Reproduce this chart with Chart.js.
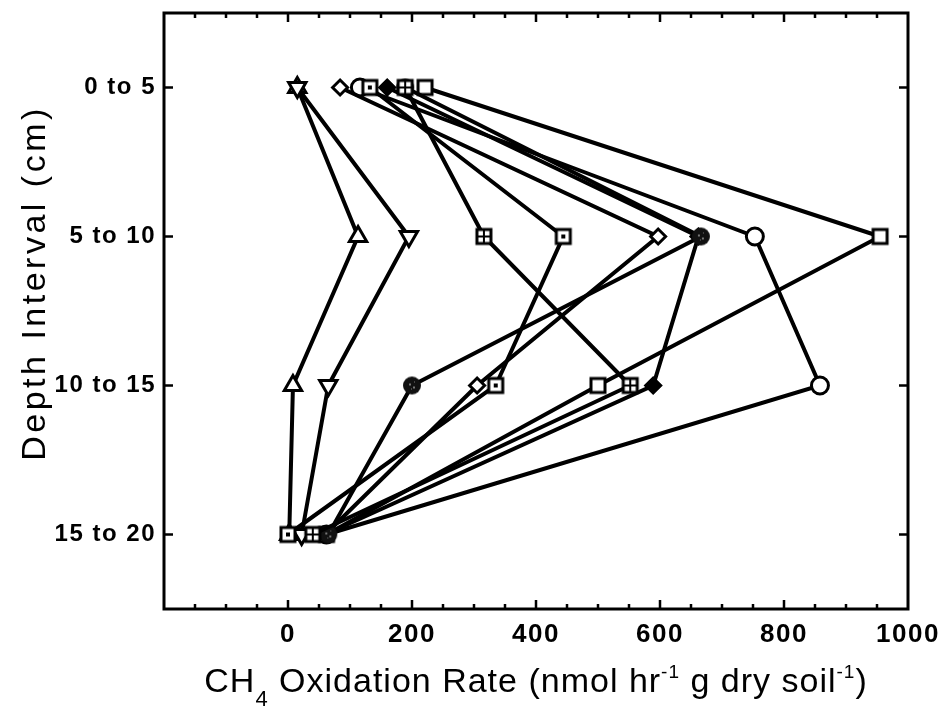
<!DOCTYPE html>
<html>
<head>
<meta charset="utf-8">
<script src="https://cdn.jsdelivr.net/npm/chart.js@4.4.0/dist/chart.umd.min.js"></script>
<style>
  html, body { margin: 0; padding: 0; background: #fff; }
  #wrap { width: 947px; height: 706px; }
</style>
</head>
<body>
<div id="wrap"><canvas id="ch4-chart" width="947" height="706"></canvas></div>
<script>
// depth intervals (categories, top to bottom)
var depths = ['0 to 5', '5 to 10', '10 to 15', '15 to 20'];

// CH4 oxidation rate for each profile, one value per depth interval
var rate_triangle_up = [15, 113, 8, 2];
var rate_triangle_down = [15, 195, 65, 22];
var rate_diamond_open = [84, 597, 305, 60];
var rate_circle_open = [116, 753, 858, 62];
var rate_square_dot = [132, 444, 335, 0];
var rate_diamond_filled = [160, 662, 589, 60];
var rate_circle_dotted = [189, 666, 200, 65];
var rate_square_grid = [189, 316, 552, 40];
var rate_square_open = [221, 955, 500, 62];

var x_labels = [0, 200, 400, 600, 800, 1000];

// little drawn markers for the symbols chart.js has no style for
function marker(kind) {
    var c = document.createElement('canvas');
    c.width = 22; c.height = 22;
    var g = c.getContext('2d');
    g.lineWidth = 3;
    g.strokeStyle = '#000';
    g.fillStyle = '#fff';
    if (kind === 'dotted') {
        g.beginPath();
        g.arc(11, 11, 9, 0, Math.PI * 2);
        g.fillStyle = '#111';
        g.fill();
        g.fillStyle = '#777';
        g.fillRect(8, 9, 2, 2);
        g.fillRect(12, 12, 2, 2);
        g.fillRect(10, 14, 1, 1);
        g.fillRect(13, 7, 1, 1);
        return c;
    }
    g.fillRect(4, 4, 14, 14);
    g.strokeRect(4, 4, 14, 14);
    g.fillStyle = '#000';
    if (kind === 'dot') {
        g.fillRect(9, 9, 4, 4);
    }
    if (kind === 'grid') {
        g.lineWidth = 2;
        g.beginPath();
        g.moveTo(11, 4); g.lineTo(11, 18);
        g.moveTo(4, 11); g.lineTo(18, 11);
        g.stroke();
    }
    return c;
}

function series(values, style, extra) {
    var ds = {
        data: values.map(function(v, i) { return {x: v, y: depths[i]}; }),
        borderColor: '#000',
        borderWidth: 4,
        pointStyle: style,
        pointBorderColor: '#000',
        pointBackgroundColor: '#fff',
        pointBorderWidth: 3,
        pointRadius: 8,
        tension: 0,
        fill: false
    };
    for (var k in extra) ds[k] = extra[k];
    return ds;
}

var x_title = [['CH', 0], ['4', 1], [' Oxidation Rate (nmol hr', 0], ['-1', -1], [' g dry soil', 0], ['-1', -1], [')', 0]];

var frame_plugin = {
    id: 'frame',
    beforeDraw: function(chart) {
        chart.ctx.letterSpacing = '1.5px';
    },
    afterDraw: function(chart) {
        var ctx = chart.ctx, a = chart.chartArea;
        var xs = chart.scales.x, ys = chart.scales.y;
        ctx.save();
        ctx.strokeStyle = '#000';
        ctx.lineWidth = 3;
        ctx.strokeRect(a.left, a.top, a.right - a.left, a.bottom - a.top);
        ctx.lineWidth = 2.5;
        ctx.beginPath();
        for (var v = -150; v < 1000; v += 50) {
            var px = xs.getPixelForValue(v);
            var len = v % 200 === 0 ? 9 : 5;
            ctx.moveTo(px, a.bottom); ctx.lineTo(px, a.bottom - len);
            ctx.moveTo(px, a.top); ctx.lineTo(px, a.top + len);
        }
        depths.forEach(function(d, i) {
            var py = ys.getPixelForValue(i);
            ctx.moveTo(a.left, py); ctx.lineTo(a.left + 9, py);
            ctx.moveTo(a.right, py); ctx.lineTo(a.right - 9, py);
        });
        ctx.stroke();

        // x title with sub / superscripts
        ctx.fillStyle = '#000';
        ctx.letterSpacing = '1px';
        ctx.textBaseline = 'alphabetic';
        ctx.textAlign = 'left';
        var fonts = {0: '34px "Liberation Sans"', 1: '22px "Liberation Sans"', '-1': '19px "Liberation Sans"'};
        var shift = {0: 0, 1: 14, '-1': -14};
        var total = 0;
        x_title.forEach(function(p) { ctx.font = fonts[p[1]]; total += ctx.measureText(p[0]).width; });
        var x = (a.left + a.right) / 2 - total / 2, base = 692;
        x_title.forEach(function(p) {
            ctx.font = fonts[p[1]];
            ctx.fillText(p[0], x, base + shift[p[1]]);
            x += ctx.measureText(p[0]).width;
        });

        // y title
        ctx.translate(45, 283);
        ctx.rotate(-Math.PI / 2);
        ctx.textAlign = 'center';
        ctx.letterSpacing = '3.5px';
        ctx.font = '34px "Liberation Sans"';
        ctx.fillText('Depth Interval (cm)', 0, 0);
        ctx.restore();
    }
};

var chart_config = {
    type: 'line',
    data: {
        labels: depths,
        datasets: [
            series(rate_square_grid, marker('grid')),
            series(rate_circle_dotted, marker('dotted')),
            series(rate_square_dot, marker('dot')),
            series(rate_diamond_filled, 'rectRot', {pointBackgroundColor: '#000', pointRadius: 7.5}),
            series(rate_square_open, marker('square')),
            series(rate_diamond_open, 'rectRot', {pointRadius: 7.5}),
            series(rate_circle_open, 'circle', {pointRadius: 8.5}),
            series(rate_triangle_down, 'triangle', {pointRotation: 180, pointRadius: 10}),
            series(rate_triangle_up, 'triangle', {pointRadius: 10})
        ]
    },
    options: {
        responsive: false,
        animation: false,
        devicePixelRatio: 1,
        layout: { padding: { top: 12, right: 39, left: 0, bottom: 0 } },
        plugins: {
            legend: { display: false },
            tooltip: { enabled: false }
        },
        scales: {
            x: {
                type: 'linear',
                min: -200,
                max: 1000,
                afterBuildTicks: function(scale) {
                    scale.ticks = x_labels.map(function(v) { return {value: v}; });
                },
                afterFit: function(scale) {
                    scale.height = 97;
                    scale.paddingLeft = 0;
                    scale.paddingRight = 0;
                },
                grid: { display: false, drawTicks: false },
                border: { display: false },
                ticks: {
                    color: '#000',
                    padding: 10,
                    maxRotation: 0,
                    autoSkip: false,
                    callback: function(v) { return String(v); },
                    font: { family: 'Liberation Sans', size: 26, weight: 'bold' }
                }
            },
            y: {
                type: 'category',
                labels: depths,
                offset: true,
                afterFit: function(scale) {
                    scale.width = 164;
                    scale.paddingTop = 0;
                    scale.paddingBottom = 0;
                },
                grid: { display: false, drawTicks: false, offset: true },
                border: { display: false },
                ticks: {
                    color: '#000',
                    padding: 8,
                    font: { family: 'Liberation Sans', size: 24, weight: 'bold' }
                }
            }
        }
    },
    plugins: [frame_plugin]
};

window.onload = function() {
    var ctx = document.getElementById('ch4-chart').getContext('2d');
    window.ch4Chart = new Chart(ctx, chart_config);
};
</script>
</body>
</html>
